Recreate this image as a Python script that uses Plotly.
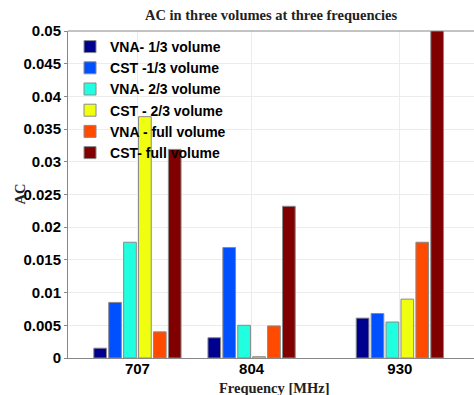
import plotly.graph_objects as go

# Measurement frequencies (MHz)
frequencies = [707, 804, 930]

# Series names and AC values at each frequency
series_names = [
    "VNA- 1/3 volume",
    "CST -1/3 volume",
    "VNA- 2/3 volume",
    "CST - 2/3 volume",
    "VNA - full volume",
    "CST- full volume",
]
vna_third = [0.0015, 0.0031, 0.0061]
cst_third = [0.0085, 0.0169, 0.0068]
vna_two_thirds = [0.0177, 0.0050, 0.0055]
cst_two_thirds = [0.0369, 0.0002, 0.0090]
vna_full = [0.0040, 0.0049, 0.0177]
cst_full = [0.0319, 0.0232, 0.0520]

series_values = [vna_third, cst_third, vna_two_thirds, cst_two_thirds, vna_full, cst_full]

# jet-style palette
colors = ["#00008F", "#0050FF", "#20FFDF", "#F0FF10", "#FF4A00", "#800000"]

fig = go.Figure()
for name, vals, col in zip(series_names, series_values, colors):
    fig.add_trace(go.Bar(
        x=frequencies,
        y=vals,
        name=name,
        marker=dict(color=col, line=dict(color="#8a8a8a", width=1)),
    ))

tick_font = dict(family="Liberation Sans, Arial, sans-serif", size=15, color="black", weight="bold")
serif_font = dict(family="Liberation Serif, Times New Roman, serif", size=14.5, color="#222222")

fig.update_layout(
    width=474,
    height=395,
    margin=dict(l=68, r=0, t=31, b=37),
    paper_bgcolor="white",
    plot_bgcolor="white",
    barmode="group",
    bargap=0.216,
    bargroupgap=0.15,
    showlegend=True,
    legend=dict(
        x=0.005, y=1.0, xanchor="left", yanchor="top",
        bgcolor="rgba(255,255,255,0)",
        font=dict(family="Liberation Sans, Arial, sans-serif", size=14,
                  color="black", weight="bold"),
        tracegroupgap=0,
        itemwidth=30,
        traceorder="normal",
    ),
    xaxis=dict(
        range=[648, 993],
        tickvals=frequencies,
        ticktext=[str(f) for f in frequencies],
        tickfont=tick_font,
        ticklabelstandoff=-3,
        showgrid=True,
        gridcolor="#ececec",
        showline=True,
        linecolor="#888888",
        linewidth=1,
        ticks="",
        zeroline=False,
    ),
    yaxis=dict(
        range=[0, 0.05],
        dtick=0.005,
        tickformat="~g",
        tickfont=tick_font,
        showgrid=True,
        gridcolor="#ececec",
        showline=True,
        linecolor="#888888",
        linewidth=1,
        ticks="outside",
        ticklen=3,
        tickcolor="#888888",
        zeroline=False,
        mirror=False,
    ),
    annotations=[
        dict(text="<b>AC in three volumes at three frequencies</b>",
             xref="paper", yref="paper", x=0.5, y=1, yshift=16,
             xanchor="center", yanchor="middle", showarrow=False,
             font=dict(family="Liberation Serif, Times New Roman, serif", size=14.5, color="#222222")),
        dict(text="<b>Frequency [MHz]</b>",
             xref="paper", yref="paper", x=0.508, y=0, yshift=-30,
             xanchor="center", yanchor="middle", showarrow=False, font=serif_font),
        dict(text="<b>AC</b>",
             xref="paper", yref="paper", x=0, xshift=-49, y=0.5,
             xanchor="center", yanchor="middle", showarrow=False,
             textangle=-90, font=serif_font),
    ],
)

# top border of the axes box
fig.add_shape(type="line", xref="paper", yref="paper", x0=0, x1=1, y0=1, y1=1,
              line=dict(color="#888888", width=1))

fig.write_html("out.html")
